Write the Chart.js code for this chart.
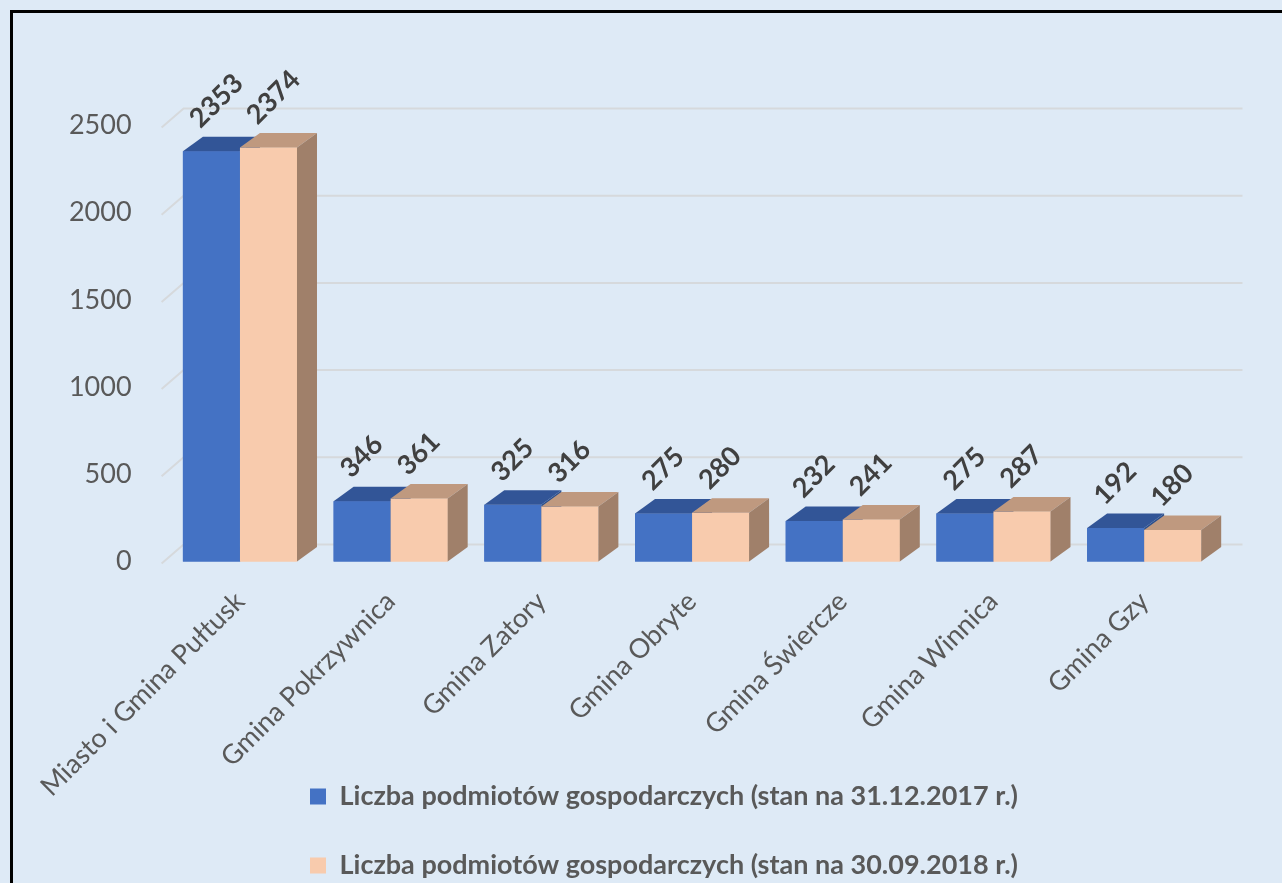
<!DOCTYPE html>
<html>
<head>
<meta charset="utf-8">
<script src="https://cdn.jsdelivr.net/npm/chart.js@4.4.1/dist/chart.umd.min.js"></script>
<style>
  html, body {
    margin: 0;
    padding: 0;
    width: 1282px;
    height: 883px;
    overflow: hidden;
    background: #deeaf6;
  }
  .frame {
    position: absolute;
    left: 10px;
    top: 10px;
    width: 1302px;
    height: 876px;
    border: 3px solid #000;
    background: #deeaf6;
  }
  canvas { display: block; }
</style>
</head>
<body>
<div class="frame"><canvas id="chart" width="1302" height="876"></canvas></div>
<script>
const categories = [
  "Miasto i Gmina Pułtusk",
  "Gmina Pokrzywnica",
  "Gmina Zatory",
  "Gmina Obryte",
  "Gmina Świercze",
  "Gmina Winnica",
  "Gmina Gzy",
];
const seriesNames = [
  "Liczba podmiotów gospodarczych (stan na 31.12.2017 r.)",
  "Liczba podmiotów gospodarczych (stan na 30.09.2018 r.)",
];
const values2017 = [2353, 346, 325, 275, 232, 275, 192];
const values2018 = [2374, 361, 316, 280, 241, 287, 180];
const yTicks = [0, 500, 1000, 1500, 2000, 2500];

// colours of the 3d faces: front, top, side
const faces = [
  { front: "#4472c4", top: "#325597", side: "#2c4f8c" },
  { front: "#f8cbad", top: "#bf997f", side: "#a0806a" },
];
const depth = { dx: 20, dy: -14.5 };

Chart.defaults.font.family = "Lato";

// back wall grid lines drawn in perspective
const grid3d = {
  id: "grid3d",
  afterLayout(chart) {
    // rotated category labels run into the legend band, don't clip them
    chart.scales.x._computeLabelArea = () => undefined;
  },
  beforeDatasetsDraw(chart) {
    const { ctx, chartArea } = chart;
    const y = chart.scales.y;
    ctx.save();
    ctx.strokeStyle = "#d6d9dc";
    ctx.lineWidth = 2;
    yTicks.forEach((v) => {
      const py = y.getPixelForValue(v);
      ctx.beginPath();
      ctx.moveTo(chartArea.left - 3, py + 2);
      ctx.lineTo(chartArea.left + 19, py - 17);
      ctx.lineTo(chartArea.right + 23, py - 17);
      ctx.stroke();
    });
    ctx.restore();
  },
};

// bars redrawn category by category with their top and side faces
const bars3d = {
  id: "bars3d",
  afterDatasetsDraw(chart) {
    const { ctx } = chart;
    const metas = chart.data.datasets.map((ds, i) => chart.getDatasetMeta(i));
    ctx.save();
    categories.forEach((c, j) => {
      metas.forEach((meta, i) => {
        const bar = meta.data[j];
        const f = faces[i];
        const x0 = bar.x - bar.width / 2;
        const x1 = bar.x + bar.width / 2;
        const top = bar.y;
        const bottom = bar.base;
        bar.draw(ctx);
        ctx.fillStyle = f.top;
        ctx.beginPath();
        ctx.moveTo(x0, top);
        ctx.lineTo(x1, top);
        ctx.lineTo(x1 + depth.dx, top + depth.dy);
        ctx.lineTo(x0 + depth.dx, top + depth.dy);
        ctx.closePath();
        ctx.fill();
        ctx.fillStyle = f.side;
        ctx.beginPath();
        ctx.moveTo(x1, top);
        ctx.lineTo(x1 + depth.dx, top + depth.dy);
        ctx.lineTo(x1 + depth.dx, bottom + depth.dy);
        ctx.lineTo(x1, bottom);
        ctx.closePath();
        ctx.fill();
      });
    });
    ctx.restore();

    // rotated value labels
    ctx.save();
    ctx.font = "bold 27px Lato";
    ctx.fillStyle = "#404040";
    ctx.textAlign = "left";
    ctx.textBaseline = "middle";
    chart.data.datasets.forEach((ds, i) => {
      metas[i].data.forEach((bar, j) => {
        ctx.save();
        ctx.translate(bar.x - 17, bar.y - 28);
        ctx.rotate(-Math.PI / 4);
        ctx.fillText(String(ds.data[j]), 0, 0);
        ctx.restore();
      });
    });
    ctx.restore();
  },
};

new Chart(document.getElementById("chart"), {
  type: "bar",
  data: {
    labels: categories,
    datasets: [
      {
        label: seriesNames[0],
        data: values2017,
        backgroundColor: faces[0].front,
        borderWidth: 0,
        clip: false,
      },
      {
        label: seriesNames[1],
        data: values2018,
        backgroundColor: faces[1].front,
        borderWidth: 0,
        clip: false,
      },
    ],
  },
  plugins: [grid3d, bars3d],
  options: {
    responsive: false,
    animation: false,
    events: [],
    layout: { padding: { top: 112.5, left: 0, right: 0, bottom: 0 } },
    datasets: {
      bar: { categoryPercentage: 0.757, barPercentage: 1.0 },
    },
    plugins: {
      tooltip: { enabled: false },
      legend: {
        position: "bottom",
        align: "center",
        labels: {
          color: "#595959",
          font: { size: 27, weight: "bold" },
          boxWidth: 16,
          boxHeight: 16,
          padding: 42,
        },
      },
    },
    scales: {
      x: {
        grid: { display: false, drawTicks: false },
        border: { display: false },
        ticks: {
          color: "#595959",
          font: { size: 27 },
          padding: 24,
          minRotation: 45,
          maxRotation: 45,
          autoSkip: false,
        },
        afterFit(scale) {
          scale.height = 179.5;
          scale.paddingLeft = 0;
          scale.paddingRight = 0;
        },
      },
      y: {
        min: yTicks[0],
        max: yTicks[yTicks.length - 1],
        grid: { display: false, drawTicks: false },
        border: { display: false },
        ticks: {
          stepSize: 500,
          color: "#595959",
          font: { size: 27 },
          padding: 33,
          callback: (v) => String(v),
        },
        afterFit(scale) {
          scale.width = 151.6;
        },
      },
      spacer: {
        position: "right",
        grid: { display: false, drawTicks: false },
        border: { display: false },
        ticks: { display: false },
        afterFit(scale) {
          scale.width = 95.5;
        },
      },
    },
  },
});
</script>
</body>
</html>
